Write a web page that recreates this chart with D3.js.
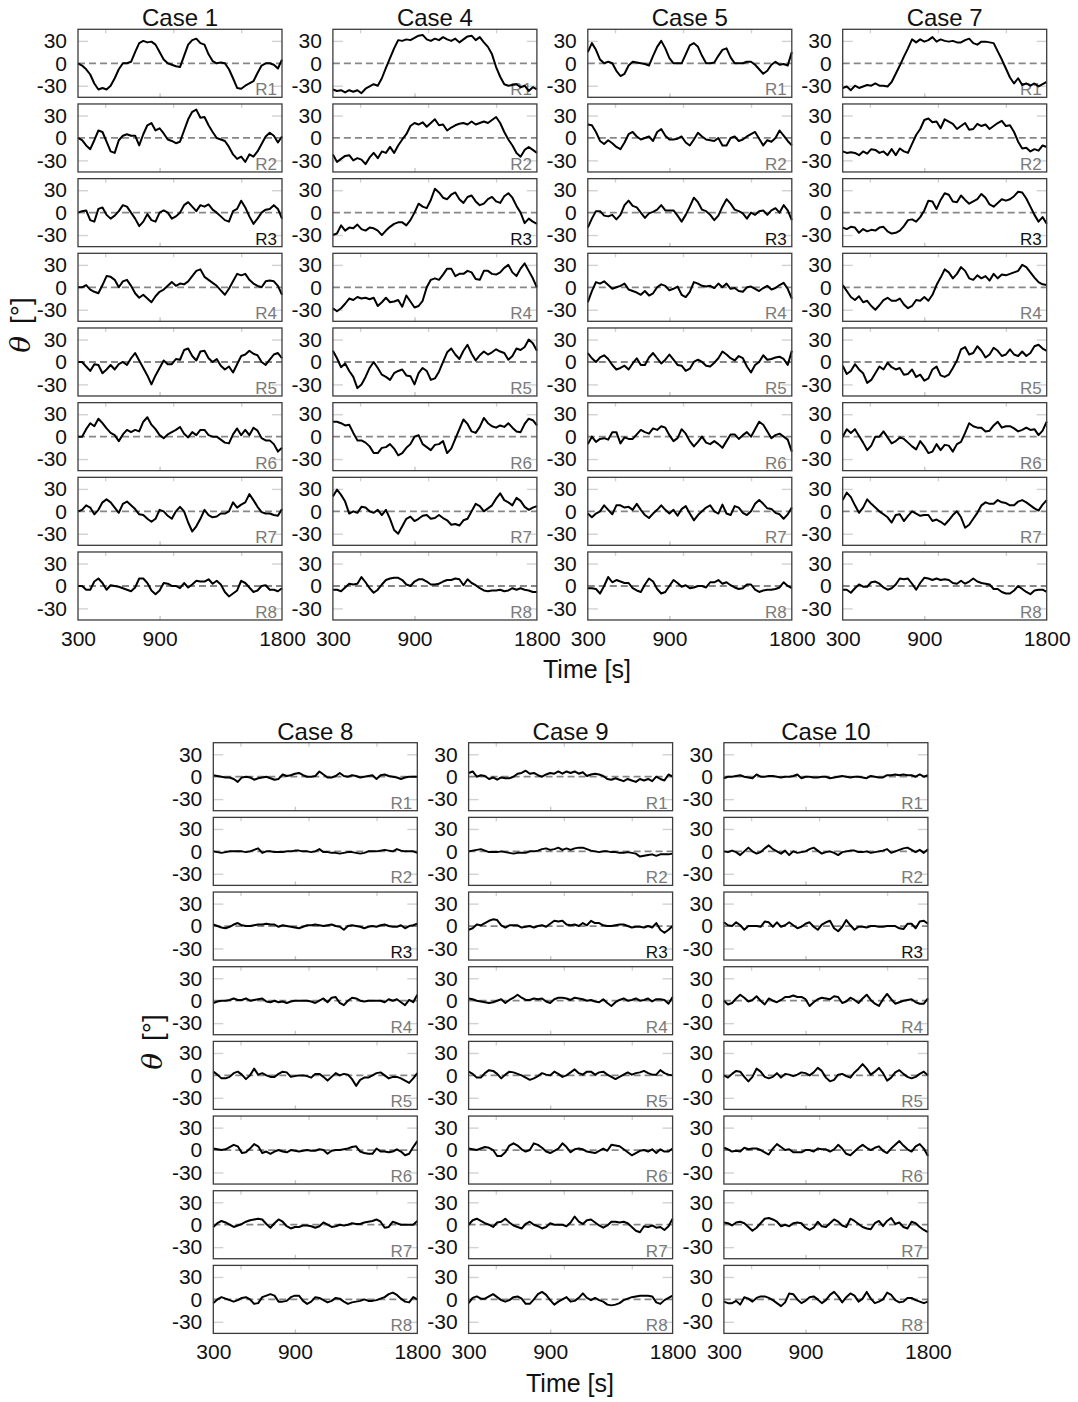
<!DOCTYPE html>
<html>
<head>
<meta charset="utf-8">
<script src="https://cdn.jsdelivr.net/npm/d3@7"></script>
<style>
  body { margin: 0; background: #fff; }
  svg { display: block; }
  text { font-family: "Liberation Sans", Arial, sans-serif; }
</style>
</head>
<body>
<svg id="chart" width="1078" height="1402"></svg>
<script>
// Sampling instants (s) shared by every rotor trace
const times = d3.range(300, 1801, 30);
const rowLabels = ["R1", "R2", "R3", "R4", "R5", "R6", "R7", "R8"];
const yTickValues = [-30, 0, 30];
const xTickLabels = [300, 900, 1800];
const topTickValues = [500, 1000, 1500];
const bottomTickValues = [900];

// Yaw angle theta (deg) per rotor R1..R8
const case1 = [
  [0,-3,-8,-15,-27,-35,-33,-35,-30,-20,-8,0,0,2,15,27,30,28,29,25,15,5,0,-2,-4,-5,10,25,31,33,27,25,12,3,0,1,0,-8,-20,-33,-34,-30,-27,-24,-13,-3,0,0,-2,-7,5],
  [0,-3,-10,-15,-3,10,8,-5,-18,-20,-3,3,5,3,3,-10,5,17,20,10,13,6,-2,-4,-7,-5,10,25,35,38,27,28,17,8,0,-2,-4,-12,-22,-28,-25,-32,-22,-25,-18,-8,2,7,3,-6,2],
  [0,2,3,-10,-12,5,7,-3,-8,-4,2,10,8,0,-8,-18,-12,-2,-10,-12,0,3,0,-8,-5,0,10,14,8,2,10,8,11,4,0,-5,-10,-12,2,5,16,7,-5,-15,-8,0,4,5,10,5,-8],
  [0,0,3,-3,-6,-8,3,15,14,10,0,8,10,2,-8,-14,-10,-15,-20,-12,-6,-3,2,7,2,5,4,8,15,22,24,14,10,6,2,-4,-10,-2,8,18,16,18,10,5,2,0,8,9,8,2,-10],
  [0,0,-6,-12,-3,-4,-15,-10,-4,-10,-3,0,-4,5,12,2,-8,-18,-30,-18,-8,2,-3,-3,4,3,16,18,8,2,14,15,5,0,4,-5,-10,-6,-14,-3,8,10,15,11,9,0,-4,3,10,12,5],
  [0,0,10,18,14,24,18,11,5,2,-6,3,9,6,9,7,20,26,16,10,2,-2,3,6,9,13,4,-1,6,2,9,9,2,0,0,-4,-8,-9,3,11,2,9,2,12,8,-2,-5,-5,-10,-20,-15],
  [0,2,8,5,-4,2,12,16,12,5,-2,10,13,8,3,-4,-5,-10,-14,-10,2,0,-6,-10,0,6,0,-15,-27,-20,-10,2,-5,-8,-7,-3,-3,0,12,5,9,12,23,15,6,-1,-3,-3,-5,-6,3],
  [0,0,-5,-5,6,10,4,-5,1,0,-1,-3,-5,-7,-2,10,10,4,-6,-11,-6,4,3,0,0,-3,4,-2,2,7,6,6,9,3,7,2,-8,-14,-10,-6,7,4,-2,-8,-6,0,1,-5,-5,-7,-3]
];
const case4 = [
  [-35,-37,-36,-39,-36,-38,-36,-40,-34,-31,-28,-30,-20,-6,7,20,31,30,32,31,34,37,38,32,30,33,31,35,32,30,33,28,32,36,37,31,35,28,22,12,-5,-18,-28,-30,-29,-28,-32,-30,-37,-32,-35],
  [-22,-32,-28,-24,-23,-30,-27,-29,-35,-26,-20,-27,-18,-20,-12,-20,-10,-2,5,16,20,18,21,15,20,25,17,18,10,14,17,19,20,18,22,18,20,22,20,24,28,20,8,-2,-10,-20,-25,-16,-12,-16,-20],
  [-30,-28,-17,-24,-20,-21,-16,-22,-24,-20,-21,-24,-30,-24,-19,-15,-13,-13,-17,-10,0,12,8,6,17,32,27,20,18,24,27,18,13,21,23,15,10,12,18,21,15,13,22,26,20,9,0,-14,-8,-12,-15],
  [-28,-32,-28,-22,-15,-17,-13,-15,-14,-16,-14,-25,-20,-14,-20,-19,-17,-26,-11,-19,-27,-25,-18,0,10,12,10,17,25,25,15,18,18,22,20,11,10,22,22,18,17,20,26,30,20,15,25,32,22,12,0],
  [15,5,-7,-2,-12,-20,-35,-30,-20,-8,0,-8,-17,-20,-24,-15,-12,-10,-18,-19,-30,-15,-8,-12,-24,-22,-13,0,13,18,10,4,15,23,11,2,9,14,10,13,17,14,12,3,8,18,16,20,30,25,15],
  [20,20,18,15,16,5,-5,-5,-8,-13,-22,-22,-15,-14,-10,-16,-25,-22,-15,-10,0,2,-10,-14,-18,-11,-10,-6,-22,-16,-3,10,23,17,7,5,13,25,18,14,12,15,13,18,12,7,6,17,24,22,15],
  [20,29,22,13,-3,0,-2,6,5,0,-2,2,-5,2,-10,-25,-30,-20,-10,-7,-13,-10,-6,-5,-10,-9,-5,-9,-12,-18,-17,-19,-12,-10,0,10,7,0,4,8,17,24,15,12,8,18,14,6,2,5,7],
  [-5,-5,-7,-2,3,2,3,12,5,-3,-9,-5,2,8,10,11,11,8,2,0,6,9,9,6,2,2,3,6,8,8,10,9,1,9,4,1,-3,-6,-7,-6,-6,-5,-7,-6,-3,-5,-3,-5,-6,-8,-8]
];
const case5 = [
  [15,27,18,5,0,2,0,-10,-17,-14,-3,2,1,0,-1,-3,10,22,30,20,7,0,0,0,12,24,27,22,10,0,0,1,10,18,20,8,0,0,0,2,2,-2,-8,-14,-10,-2,2,-2,-1,-3,15],
  [18,17,8,-4,-8,-3,-7,-12,-15,-6,5,8,2,-2,0,2,-4,8,12,3,-2,-2,-1,2,-6,-10,-2,7,2,-2,-3,-4,0,-10,-10,0,2,-4,-2,2,5,8,-1,-10,-3,-5,0,10,3,-4,-10],
  [-20,-8,2,2,-4,-5,-3,-9,-3,10,16,9,7,0,-7,-1,1,4,10,3,3,3,-4,-12,-3,8,20,14,4,2,-3,-10,-4,8,18,12,4,2,-1,-8,0,-3,2,3,-3,3,6,0,10,3,-10],
  [-20,-5,7,5,8,3,-2,0,2,5,-3,-5,-7,-10,-5,-11,-8,0,4,2,-4,-2,1,-10,-13,-6,7,5,2,1,2,-1,5,0,5,-2,-1,-5,-6,0,1,-2,-5,-1,2,-3,-1,3,6,-2,-15],
  [12,5,0,6,9,4,-4,-10,-8,-5,-10,-2,5,-4,-4,6,12,5,-2,3,10,3,-4,-5,-12,-9,0,3,0,-5,-6,-1,5,14,10,5,2,8,5,-6,-14,-4,0,9,3,4,6,7,4,-4,15],
  [-10,0,-7,-3,-2,-4,6,6,-9,-1,-3,-3,3,9,6,4,11,9,14,12,2,-6,-2,10,4,-6,-13,-7,0,-8,-10,-6,-10,-15,-6,3,3,-3,2,6,0,10,20,16,7,-2,2,4,0,-4,-20],
  [-3,-8,-3,0,8,2,-4,8,8,5,6,2,10,2,-5,-9,-3,2,8,2,-3,2,-6,3,7,-3,-12,-5,0,5,8,0,-3,9,-3,-5,7,5,-2,-5,0,10,15,10,4,3,-2,-4,-10,-4,5],
  [-3,-3,-4,-10,0,12,5,8,6,4,4,-3,-6,-8,2,10,6,-4,-10,-8,0,8,4,-1,1,-3,-2,0,0,-2,5,5,8,3,5,1,-2,-4,-3,2,2,-5,-8,-6,-5,-5,-4,-2,5,0,-3]
];
const case7 = [
  [-33,-31,-36,-30,-33,-31,-29,-30,-27,-30,-30,-31,-25,-14,-3,9,20,32,28,32,29,31,35,29,32,30,29,30,28,28,31,33,27,25,29,29,28,27,16,5,-7,-19,-27,-20,-29,-27,-30,-27,-31,-28,-25],
  [-18,-20,-19,-20,-23,-18,-21,-15,-16,-20,-18,-23,-15,-23,-14,-18,-20,-8,4,12,24,26,21,22,13,25,22,19,12,16,20,11,12,19,16,18,12,16,20,23,16,17,8,-5,-14,-13,-18,-15,-17,-10,-12],
  [-20,-22,-19,-20,-27,-22,-25,-23,-24,-20,-19,-25,-28,-27,-24,-18,-10,-9,-12,-6,3,16,15,5,17,26,24,15,14,23,17,12,15,18,25,20,11,8,13,18,16,18,22,28,27,19,8,-3,-12,-6,-15],
  [3,-5,-13,-17,-12,-20,-18,-25,-30,-24,-17,-14,-18,-18,-15,-23,-28,-25,-17,-18,-13,-18,-10,3,13,24,20,12,18,27,22,12,10,16,12,15,9,18,12,17,16,18,20,22,30,27,20,13,7,4,3],
  [-5,-16,-12,-3,-10,-15,-28,-24,-15,-6,-10,-1,-7,-10,-8,-17,-16,-10,-20,-17,-25,-22,-10,-6,-18,-20,-17,-8,2,17,20,10,12,21,15,6,10,19,15,8,10,17,10,8,14,8,12,21,23,18,15],
  [0,10,5,10,1,-8,-18,-12,0,0,7,-1,-9,-6,-1,-3,-8,-13,-17,-6,-13,-22,-20,-10,-18,-11,-12,-20,-10,-7,5,18,14,12,12,7,8,15,20,12,14,14,11,7,9,12,9,10,2,8,20],
  [15,25,19,8,-2,5,16,10,5,0,-4,-8,-15,-5,-4,-13,-6,0,-3,-6,-5,-5,-13,-11,-14,-18,-12,-5,0,-8,-22,-18,-10,-2,8,12,10,10,15,12,11,8,8,13,15,12,8,4,1,9,15],
  [-5,-5,-9,-3,2,-1,-1,5,6,3,-2,-5,-3,2,10,9,10,3,-5,4,11,10,8,10,8,9,8,4,3,7,3,6,10,6,4,3,2,-4,-4,-8,-10,-10,-6,0,-4,-8,-11,-6,-5,-5,-8]
];
const case8 = [
  [2,1,0,-1,-1,-3,-7,-1,0,-1,-4,-2,-1,0,-2,-4,-3,3,1,2,4,5,2,0,0,1,7,3,-1,-1,1,5,1,0,2,1,-1,0,1,2,-3,2,3,1,0,-1,-3,-1,0,0,0],
  [0,-1,-2,-1,0,0,0,0,-1,0,2,4,-2,0,0,-1,-1,-1,0,0,1,1,0,0,-1,0,3,-1,-1,-2,-2,-3,-2,-1,-1,-2,-3,-2,0,0,0,1,2,1,0,3,1,0,0,0,-2],
  [2,0,-2,-3,-1,2,4,1,0,0,1,2,2,3,2,2,-1,1,0,-1,-2,-3,-1,1,1,2,1,0,1,2,0,-1,-5,0,1,0,-1,-3,-1,0,-1,1,2,0,-1,-1,1,-3,0,1,3],
  [-3,-1,0,0,1,3,1,1,3,0,1,2,3,-1,-2,0,-2,-1,-3,-1,0,0,0,0,-1,-3,0,3,-2,4,5,-3,-6,0,4,3,0,-1,0,0,0,0,-2,2,0,2,-2,-6,1,-2,8],
  [5,1,-4,-4,-2,3,5,1,-5,0,9,1,3,0,-2,-2,2,5,4,-2,-1,0,0,-1,-3,2,2,-2,-7,-2,3,0,2,1,-5,-14,-6,-3,-3,0,3,4,0,-4,-2,-2,-4,-7,-10,-4,3],
  [2,1,0,1,4,7,5,-4,-3,2,8,5,-4,-2,-5,-2,0,-2,-3,0,-1,-2,-1,0,-1,-1,1,0,-5,-1,0,0,1,2,4,5,-2,-4,-5,-5,2,-2,-2,-3,-2,1,-2,-7,-5,4,12],
  [-3,2,5,3,0,-3,-1,1,4,6,7,8,7,1,-4,2,7,4,-2,-5,-3,-3,-1,-1,-2,-4,-2,3,0,-3,-2,0,-1,0,2,1,1,3,4,5,7,4,-4,-3,4,2,0,0,0,0,5],
  [-5,0,3,1,-1,-3,-1,2,3,0,-6,-5,3,5,7,5,-3,-3,-2,3,5,5,-2,-6,-3,3,2,-1,-4,-2,2,1,-3,-6,-4,-3,-2,0,-2,-2,-1,1,3,7,9,6,1,-3,-4,3,0]
];
const case9 = [
  [5,7,0,2,1,-3,-1,-4,-1,-2,-2,0,4,5,8,4,5,2,0,3,5,4,7,4,7,5,7,4,6,1,3,4,3,1,-3,-4,-2,-4,-6,-3,-5,-7,-3,-5,-3,-6,0,-3,-5,3,0],
  [0,1,2,3,1,-1,-1,-1,0,-1,-2,-3,-2,-2,-2,0,0,1,3,4,2,3,5,2,4,2,4,5,5,3,1,0,-1,0,0,-1,-1,-2,-2,-1,-2,-3,-7,-6,-5,-4,-6,-4,-4,-4,-3],
  [-5,-3,2,1,4,7,9,8,1,-2,1,1,1,-2,-1,0,-2,0,1,-1,3,7,6,7,2,1,2,0,4,1,7,4,4,1,0,0,1,2,2,0,-2,-1,-1,-2,0,-2,4,-5,-9,-5,0],
  [3,2,0,-1,-2,-3,-2,0,2,-3,1,4,8,4,1,1,3,2,3,-1,-3,2,4,4,3,1,4,3,2,0,1,-1,-2,2,-3,-7,-2,1,3,0,1,3,0,1,3,-1,2,2,1,-4,5],
  [5,2,-3,-3,3,7,6,2,-4,1,5,4,2,0,-3,-6,-4,-1,3,1,0,5,2,-2,0,4,8,3,1,5,5,1,4,5,1,-2,-5,-2,1,4,1,3,4,6,3,1,1,7,3,1,0],
  [2,1,0,2,4,3,0,-8,-8,-3,6,9,6,1,-2,0,9,7,3,-2,-4,-1,2,9,4,-3,1,2,1,-2,-3,-4,-1,2,-1,7,6,5,1,-3,-7,-4,-1,0,-2,1,-4,1,-2,-2,2],
  [0,6,8,5,2,0,-3,3,4,8,3,-1,-3,-5,1,4,0,-2,-5,-3,2,0,0,0,-2,3,11,4,1,6,7,3,-1,-4,-1,4,4,3,4,2,-3,-8,-10,-2,-3,-1,-4,-3,-7,-2,8],
  [-5,2,4,1,1,4,7,3,-1,-3,-1,3,4,1,-6,-6,0,7,10,6,-1,-7,-3,0,3,-3,-2,2,8,2,-1,2,-1,-3,-7,-8,-7,-5,-1,1,3,4,5,5,5,4,-4,-6,-1,2,5]
];
const case10 = [
  [-2,0,0,1,2,0,-1,-2,3,0,0,1,1,0,-1,0,0,1,3,-2,0,0,-1,-1,0,0,-2,-1,0,1,0,-1,0,0,-1,-2,1,0,-1,-1,2,2,3,2,3,2,2,0,3,0,2],
  [0,-1,1,-1,-5,0,5,0,-3,-1,4,8,3,0,-3,1,-5,0,-2,-1,0,3,5,1,-3,-1,0,-2,-5,-1,0,1,1,-1,-1,0,-2,-1,0,1,3,-2,0,2,4,5,2,-1,2,-2,3],
  [5,1,0,5,1,-5,0,0,0,-1,6,5,-1,5,-1,1,5,1,-3,-1,3,5,-1,-5,2,5,7,-3,-7,-1,8,1,-5,-1,-1,-2,0,0,-1,-1,0,0,0,-3,-4,3,3,-3,6,7,3],
  [0,-5,-3,3,8,4,-1,1,6,0,-5,3,0,-2,1,5,5,7,5,5,2,-7,-2,2,4,3,2,6,5,-3,-1,4,1,-3,3,8,1,-4,-7,2,9,2,-4,-2,0,1,2,-2,-4,-4,3],
  [0,-3,2,6,5,-2,-8,-2,9,5,-2,-4,-2,3,-3,2,1,-1,1,4,3,0,4,10,6,-3,-8,-6,1,2,-1,-3,4,9,15,9,1,5,10,3,-7,-3,4,7,2,-2,-4,-2,2,5,0],
  [3,1,-2,-1,-2,3,1,2,2,0,-3,-6,2,8,4,0,1,-3,-3,-3,0,0,-2,2,1,1,-2,1,7,2,-5,-7,-2,3,7,3,0,3,5,-1,-4,2,7,12,6,1,-2,5,8,2,-8],
  [3,2,-1,3,4,2,-3,-8,-4,2,8,9,7,4,-2,0,-2,2,3,2,-4,-7,-4,4,-2,-3,2,7,4,-1,-3,8,5,1,-3,-5,-6,2,5,-2,5,9,1,3,-3,-5,4,2,-3,-7,-10],
  [-3,-5,-5,-2,-7,3,1,-3,2,4,4,2,-1,-5,-9,-4,8,7,0,-5,-2,3,4,0,-5,-1,6,10,4,-4,3,8,5,-3,1,10,1,-5,-3,0,9,6,-1,-4,-3,2,2,-1,-3,-5,-3]
];

const topCases = [
  { name: "Case 1", rows: case1 },
  { name: "Case 4", rows: case4 },
  { name: "Case 5", rows: case5 },
  { name: "Case 7", rows: case7 }
];
const bottomCases = [
  { name: "Case 8", rows: case8 },
  { name: "Case 9", rows: case9 },
  { name: "Case 10", rows: case10 }
];

const svg = d3.select("#chart");
const PW = 204, PH = 68, ROW_STEP = 74.67;

const x = d3.scaleLinear().domain([300, 1800]).range([0, PW]);
const y = d3.scaleLinear().domain([-45.5, 45.5]).range([PH, 0]);
const trace = d3.line().x((d, i) => x(times[i])).y(d => y(d));

function styleTicks(sel, color) {
  sel.select(".domain").remove();
  sel.selectAll(".tick line").attr("stroke", color).attr("stroke-width", 1.4);
}

function drawPanel(g, vals, ri, withXLabels) {
  // light inner tick marks
  g.append("g").call(d3.axisLeft(y).tickValues([-30, 30]).tickSize(-10).tickFormat(""))
    .call(s => styleTicks(s, "#d2d2d2"));
  g.append("g").attr("transform", `translate(${PW},0)`)
    .call(d3.axisRight(y).tickValues([-30, 30]).tickSize(-10).tickFormat(""))
    .call(s => styleTicks(s, "#d2d2d2"));
  g.append("g").call(d3.axisTop(x).tickValues(topTickValues).tickSize(-4).tickFormat(""))
    .call(s => styleTicks(s, "#d2d2d2"));
  g.append("g").attr("transform", `translate(0,${PH})`)
    .call(d3.axisBottom(x).tickValues(bottomTickValues).tickSize(-4).tickFormat(""))
    .call(s => styleTicks(s, "#c8c8c8"));

  // y tick labels
  const yl = g.append("g")
    .call(d3.axisLeft(y).tickValues(yTickValues).tickSize(0).tickPadding(11).tickFormat(d => String(d)));
  yl.select(".domain").remove();
  yl.selectAll("text").attr("font-size", 21).attr("font-family", "Liberation Sans, Arial, sans-serif").attr("fill", "#111");

  if (withXLabels) {
    const xl = g.append("g").attr("transform", `translate(0,${PH})`)
      .call(d3.axisBottom(x).tickValues(xTickLabels).tickSize(0).tickPadding(11).tickFormat(d => String(d)));
    xl.select(".domain").remove();
    xl.selectAll("text").attr("font-size", 21).attr("font-family", "Liberation Sans, Arial, sans-serif").attr("fill", "#111");
  }

  // zero reference
  g.append("path")
    .attr("d", d3.line().x(d => x(d)).y(() => y(0))([300, 1800]))
    .attr("stroke", "#878787").attr("stroke-width", 1.8)
    .attr("stroke-dasharray", "7,4").attr("fill", "none");

  // rotor label
  g.append("text")
    .attr("x", PW - 5).attr("y", PH - 2)
    .attr("text-anchor", "end")
    .attr("font-size", 17)
    .attr("fill", ri === 2 ? "#111" : "#7a7a7a")
    .text(rowLabels[ri]);

  // yaw trace
  g.append("path")
    .attr("d", trace(vals))
    .attr("fill", "none").attr("stroke", "#000")
    .attr("stroke-width", 2).attr("stroke-linejoin", "round");

  // frame
  g.append("rect").attr("width", PW).attr("height", PH)
    .attr("fill", "none").attr("stroke", "#3c3c3c").attr("stroke-width", 1.3);
}

function drawBlock(cases, left0, colStep, top0) {
  cases.forEach((c, ci) => {
    const gx = left0 + ci * colStep;
    svg.append("text")
      .attr("x", gx + PW / 2).attr("y", top0 - 3)
      .attr("text-anchor", "middle").attr("font-size", 24).attr("fill", "#111")
      .text(c.name);
    c.rows.forEach((vals, ri) => {
      const g = svg.append("g").attr("transform", `translate(${gx},${top0 + ri * ROW_STEP})`);
      drawPanel(g, vals, ri, ri === c.rows.length - 1);
    });
  });
}

function axisTitles(thetaX, thetaY, timeX, timeY) {
  const t = svg.append("text")
    .attr("transform", `translate(${thetaX},${thetaY}) rotate(-90)`)
    .attr("text-anchor", "middle").attr("font-size", 28).attr("fill", "#111");
  t.append("tspan").attr("font-style", "italic").attr("font-family", "DejaVu Serif, serif").text("θ");
  t.append("tspan").attr("dx", 4).text(" [°]");
  svg.append("text")
    .attr("x", timeX).attr("y", timeY)
    .attr("text-anchor", "middle").attr("font-size", 25).attr("fill", "#111")
    .text("Time [s]");
}

drawBlock(topCases, 78, 254.9, 29.3);
drawBlock(bottomCases, 213.3, 255.3, 742.7);
axisTitles(30, 325, 587, 678);
axisTitles(162, 1042, 570, 1392);
</script>
</body>
</html>
